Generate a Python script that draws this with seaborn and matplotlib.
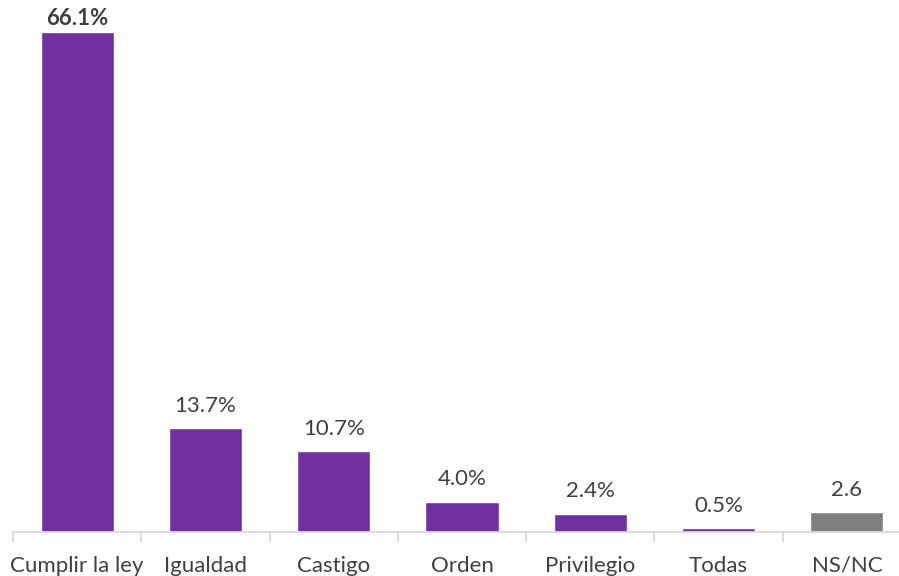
import matplotlib
matplotlib.use("Agg")
import matplotlib.pyplot as plt
import seaborn as sns
import pandas as pd

categories = ["Cumplir la ley", "Igualdad", "Castigo", "Orden", "Privilegio", "Todas", "NS/NC"]
values = [66.1, 13.7, 10.7, 4.0, 2.4, 0.5, 2.6]
labels = ["66.1%", "13.7%", "10.7%", "4.0%", "2.4%", "0.5%", "2.6"]
colors = ["#7030A0"] * 6 + ["#7F7F7F"]

sns.set_theme(style="white")
plt.rcParams['font.family'] = ['Lato', 'DejaVu Sans']

df = pd.DataFrame({"cat": categories, "val": values})

fig = plt.figure(figsize=(8.99, 5.76), dpi=100)
ax = fig.add_axes([13/899, 44/576, 898/899, 532/576])
sns.barplot(data=df, x="cat", y="val", hue="cat", palette=colors, legend=False,
            width=0.57, saturation=1, ax=ax)

ax.set_xlim(-0.5, 6.5)
ax.set_ylim(0, 70.35)
ax.set_xlabel("")
ax.set_ylabel("")
ax.set_yticks([])
for s in ["top", "right", "left"]:
    ax.spines[s].set_visible(False)
ax.spines["bottom"].set_color("#D9D9D9")
ax.spines["bottom"].set_linewidth(1.3)

ax.set_xticks(range(len(categories)))
ax.set_xticklabels(categories, fontsize=16, color="#404040")
ax.tick_params(axis="x", which="major", length=0, pad=17)
# tick marks at category boundaries
ax.set_xticks([i - 0.5 for i in range(len(categories) + 1)], minor=True)
ax.tick_params(axis="x", which="minor", bottom=True, length=7, width=1.3,
               color="#D9D9D9", direction="out")

for i, (v, lab) in enumerate(zip(values, labels)):
    ax.annotate(lab, (i, v), xytext=(0, 2 if i == 0 else 9), textcoords="offset points",
                ha="center", va="bottom", fontsize=16, color="#404040",
                fontweight="bold" if i == 0 else "normal")

fig.savefig("out.png", dpi=100)
